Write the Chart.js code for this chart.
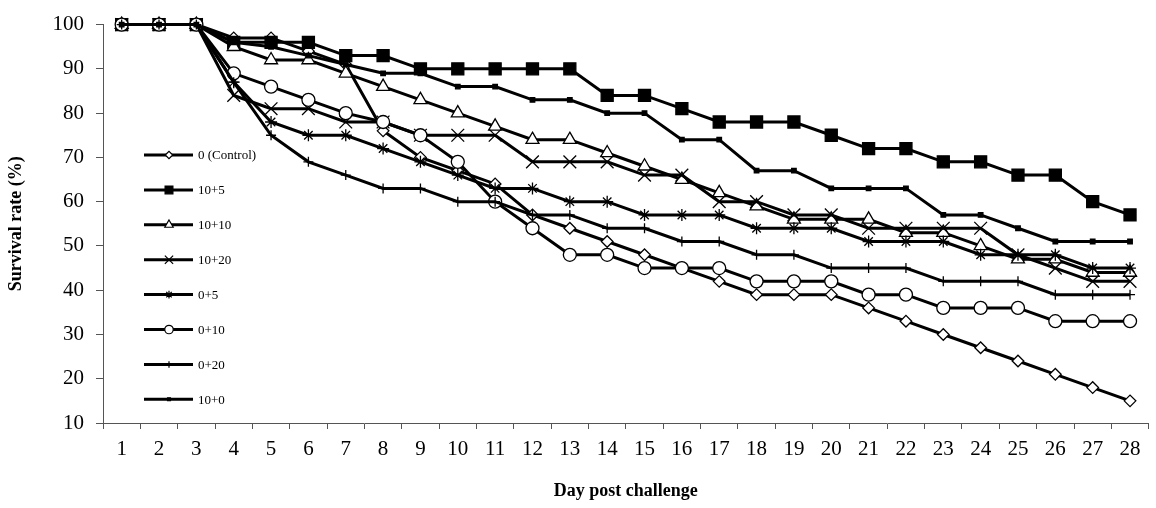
<!DOCTYPE html>
<html>
<head>
<meta charset="utf-8">
<script src="https://cdn.jsdelivr.net/npm/chart.js@4.4.0/dist/chart.umd.min.js"></script>
<style>
  html, body { margin: 0; padding: 0; background: #fff; overflow: hidden; }
  .chart-box { position: relative; width: 1159px; height: 508px; }
</style>
</head>
<body>
<div class="chart-box"><canvas id="survival"></canvas></div>
<script>
const days = ['1', '2', '3', '4', '5', '6', '7', '8', '9', '10', '11', '12', '13', '14',
  '15', '16', '17', '18', '19', '20', '21', '22', '23', '24', '25', '26', '27', '28'];

// survival rate (%) per group
const control = [100, 100, 100, 97, 97, 94, 91, 76, 70, 67, 64, 57, 54, 51, 48, 45, 42, 39, 39, 39, 36, 33, 30, 27, 24, 21, 18, 15];
const g10p5   = [100, 100, 100, 96, 96, 96, 93, 93, 90, 90, 90, 90, 90, 84, 84, 81, 78, 78, 78, 75, 72, 72, 69, 69, 66, 66, 60, 57];
const g10p10  = [100, 100, 100, 95, 92, 92, 89, 86, 83, 80, 77, 74, 74, 71, 68, 65, 62, 59, 56, 56, 56, 53, 53, 50, 47, 47, 44, 44];
const g10p20  = [100, 100, 100, 84, 81, 81, 78, 78, 75, 75, 75, 69, 69, 69, 66, 66, 60, 60, 57, 57, 54, 54, 54, 54, 48, 45, 42, 42];
const g0p5    = [100, 100, 100, 87, 78, 75, 75, 72, 69, 66, 63, 63, 60, 60, 57, 57, 57, 54, 54, 54, 51, 51, 51, 48, 48, 48, 45, 45];
const g0p10   = [100, 100, 100, 89, 86, 83, 80, 78, 75, 69, 60, 54, 48, 48, 45, 45, 45, 42, 42, 42, 39, 39, 36, 36, 36, 33, 33, 33];
const g0p20   = [100, 100, 100, 87, 75, 69, 66, 63, 63, 60, 60, 57, 57, 54, 54, 51, 51, 48, 48, 45, 45, 45, 42, 42, 42, 39, 39, 39];
const g10p0   = [100, 100, 100, 96, 95, 93, 91, 89, 89, 86, 86, 83, 83, 80, 80, 74, 74, 67, 67, 63, 63, 63, 57, 57, 54, 51, 51, 51];

const yTicks = [10, 20, 30, 40, 50, 60, 70, 80, 90, 100];

const serif = '"Liberation Serif", "Times New Roman", serif';

// later groups are painted over earlier ones, as in the original
function series(label, data, style, radius, fill, order) {
  return {
    label: label,
    data: data,
    order: order,
    borderColor: '#000',
    borderWidth: 3,
    tension: 0,
    clip: false,
    pointStyle: style,
    pointRadius: radius,
    pointHoverRadius: radius,
    pointBackgroundColor: fill,
    pointBorderColor: '#000',
    pointBorderWidth: 1.3,
    legendRadius: radius * 0.65
  };
}

const datasets = [
  series('0 (Control)', control, 'rectRot', 5.8, '#fff', 8),
  series('10+5', g10p5, 'rect', 8.5, '#000', 7),
  series('10+10', g10p10, 'triangle', 7.5, '#fff', 6),
  series('10+20', g10p20, 'crossRot', 9, '#fff', 5),
  series('0+5', g0p5, 'star', 6, '#fff', 4),
  series('0+10', g0p10, 'circle', 6.5, '#fff', 3),
  series('0+20', g0p20, 'cross', 5, '#fff', 2),
  series('10+0', g10p0, 'rect', 3.2, '#000', 1)
];

// legend drawn inside the plot, one row per group
const insideLegend = {
  id: 'insideLegend',
  afterDraw(chart) {
    const ctx = chart.ctx;
    ctx.save();
    chart.data.datasets.forEach((ds, i) => {
      const y = 155 + i * 34.9;
      ctx.strokeStyle = '#000';
      ctx.lineWidth = 3;
      ctx.beginPath();
      ctx.moveTo(144, y);
      ctx.lineTo(193, y);
      ctx.stroke();
      ctx.fillStyle = ds.pointBackgroundColor;
      ctx.lineWidth = 1.2;
      Chart.helpers.drawPoint(ctx, {
        pointStyle: ds.pointStyle,
        radius: ds.legendRadius,
        rotation: 0,
        borderWidth: 1.2
      }, 169, y);
      ctx.fillStyle = '#000';
      ctx.font = '13px ' + serif;
      ctx.textAlign = 'left';
      ctx.textBaseline = 'middle';
      ctx.fillText(ds.label, 198, y + 1);
    });
    ctx.restore();
  }
};

new Chart(document.getElementById('survival'), {
  type: 'line',
  data: { labels: days, datasets: datasets },
  options: {
    responsive: true,
    maintainAspectRatio: false,
    animation: false,
    layout: { padding: { top: 22, right: 0, left: 0, bottom: 0 } },
    plugins: {
      legend: { display: false },
      tooltip: { enabled: false }
    },
    scales: {
      x: {
        type: 'category',
        offset: true,
        afterFit: (scale) => { scale.height = 85; },
        grid: { display: true, drawOnChartArea: false, offset: true, tickLength: 6, color: '#555' },
        border: { color: '#555', width: 1 },
        ticks: { color: '#000', font: { family: serif, size: 21 }, padding: 8, maxRotation: 0 },
        title: {
          display: true,
          text: 'Day post challenge',
          color: '#000',
          font: { family: serif, size: 18, weight: 'bold' },
          padding: { top: 0, bottom: 6 }
        }
      },
      y: {
        min: 10,
        max: 100,
        afterFit: (scale) => { scale.width = 103; },
        afterBuildTicks: (scale) => { scale.ticks = yTicks.map(v => ({ value: v })); },
        grid: { display: true, drawOnChartArea: false, tickLength: 7, color: '#555' },
        border: { color: '#555', width: 1 },
        ticks: { color: '#000', font: { family: serif, size: 21 }, padding: 12 },
        title: {
          display: true,
          text: 'Survival rate (%)',
          color: '#000',
          font: { family: serif, size: 18, weight: 'bold' },
          padding: { top: 6, bottom: 0 }
        }
      }
    }
  },
  plugins: [insideLegend]
});
</script>
</body>
</html>
